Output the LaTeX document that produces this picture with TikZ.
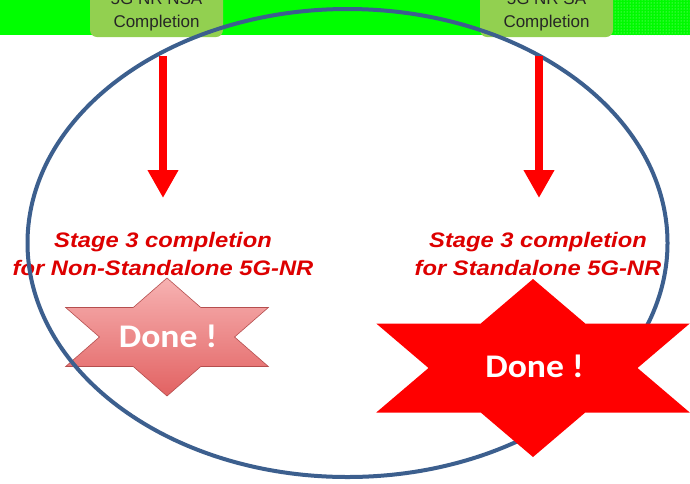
\documentclass[tikz,border=0pt]{standalone}
\usepackage{fontspec}
\setmainfont{Liberation Sans}
\newfontfamily\carl[FakeStretch=1.08]{Carlito}
\newfontfamily\stagefont[FakeStretch=1.13]{Liberation Sans}
\usetikzlibrary{arrows.meta,patterns,shadows}
\definecolor{stripgreen}{HTML}{00FF00}
\definecolor{boxgreen}{HTML}{92D050}
\definecolor{ellblue}{HTML}{3C5F8E}
\definecolor{txtred}{HTML}{DD0000}
\definecolor{pinktop}{HTML}{F7B2B2}
\definecolor{pinkbot}{HTML}{E26262}
\tikzset{
  boxstyle/.style={fill=boxgreen, rounded corners=7pt, inner sep=0pt},
  boxtext/.style={anchor=base, text=black!85, font=\fontsize{17}{20}\selectfont, inner sep=0pt},
  stagetext/.style={text=txtred, align=center, font=\stagefont\bfseries\itshape\fontsize{21}{28}\selectfont, inner sep=0pt},
  donetext/.style={text=white, font=\carl\bfseries\fontsize{33}{36}\selectfont, inner sep=0pt},
  redarrow/.style={draw=red, line width=8.5pt, -{Triangle[width=29pt,length=28pt]}},
  hexstar/.pic={\path[pic actions] (0:0.57735) -- (30:1) -- (60:0.57735) -- (90:1) -- (120:0.57735) -- (150:1) -- (180:0.57735) -- (210:1) -- (240:0.57735) -- (270:1) -- (300:0.57735) -- (330:1) -- cycle;}
}
\begin{document}
\begin{tikzpicture}[x=1pt,y=-1pt]
\useasboundingbox (0,0) rectangle (690,483);
\clip (0,0) rectangle (690,483);
\fill[white] (0,0) rectangle (690,483);
% top strip
\fill[stripgreen] (0,0) rectangle (613,35);
\fill[stripgreen!80!black!10!stripgreen] (613,0) rectangle (690,35);
\fill[pattern=dots, pattern color=white!70!stripgreen] (613,0) rectangle (690,35);
\node[boxstyle, minimum width=133pt, minimum height=57pt] (nsaBox) at (156.5,8.5) {};
\node[boxstyle, minimum width=133pt, minimum height=57pt] (saBox) at (546.5,8.5) {};
\node[boxtext] at (156.5,4) {5G NR NSA};
\node[boxtext] at (156.5,27) {Completion};
\node[boxtext] at (546.5,4) {5G NR SA};
\node[boxtext] at (546.5,27) {Completion};
% left star (under ellipse)
\begin{scope}[shift={(167,337)}, x=117pt, y=-59pt]
  \pic[top color=pinktop, bottom color=pinkbot, draw=pinkbot!80!black, line width=0.6pt, drop shadow={opacity=0.2, shadow xshift=1.5pt, shadow yshift=-1.5pt}] {hexstar};
\end{scope}
\node[donetext] (nsaDone) at (168,336.5) {Done !};
% texts
\node[stagetext] (nsaText) at (163,254) {Stage 3 completion\\for Non-Standalone 5G-NR};
\node[stagetext] (saText) at (538,254) {Stage 3 completion\\for Standalone 5G-NR};
% ellipse
\draw[ellblue, line width=4pt] (347.5,243) ellipse [x radius=320, y radius=234];
% right star (over ellipse)
\begin{scope}[shift={(533,368)}, x=181pt, y=-89pt]
  \pic[fill=red, drop shadow={opacity=0.25, shadow xshift=2pt, shadow yshift=-2pt}] {hexstar};
\end{scope}
\node[donetext] (saDone) at (534.5,366) {Done !};
% arrows
\coordinate (nsaA) at (163,56);
\coordinate (nsaB) at (163,198);
\coordinate (saA) at (539,56);
\coordinate (saB) at (539,198);
\draw[redarrow] (nsaA) -- (nsaB);
\draw[redarrow] (saA) -- (saB);
\end{tikzpicture}
\end{document}
